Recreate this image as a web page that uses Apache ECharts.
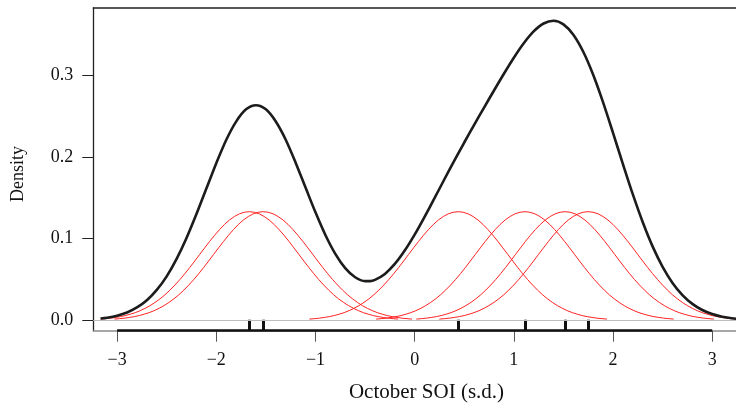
<!DOCTYPE html>
<html>
<head>
<meta charset="utf-8">
<script src="https://cdn.jsdelivr.net/npm/echarts@6/dist/echarts.min.js"></script>
<style>
html,body{margin:0;padding:0;background:#fff;}
#chart{width:736px;height:404px;}
</style>
</head>
<body>
<div id="chart"></div>
<script>
// ---- data ----
const observations = [-1.667, -1.527, 0.439, 1.112, 1.517, 1.749];
const kernelOffset = [-1.5,-1.45,-1.4,-1.35,-1.3,-1.25,-1.2,-1.15,-1.1,-1.05,-1.0,-0.95,-0.9,-0.85,-0.8,-0.75,-0.7,-0.65,-0.6,-0.55,-0.5,-0.45,-0.4,-0.35,-0.3,-0.25,-0.2,-0.15,-0.1,-0.05,0,
  0.05,0.1,0.15,0.2,0.25,0.3,0.35,0.4,0.45,0.5,0.55,0.6,0.65,0.7,0.75,0.8,0.85,0.9,0.95,1.0,1.05,1.1,1.15,1.2,1.25,1.3,1.35,1.4,1.45,1.5];
const kernelHeight = [0.0015,0.0020,0.0026,0.0035,0.0045,0.0058,0.0075,0.0094,0.0118,0.0147,0.0180,0.0219,0.0263,0.0313,0.0370,0.0432,0.0499,0.0571,0.0647,0.0726,0.0807,0.0887,0.0966,0.1041,0.1111,0.1174,0.1228,0.1271,0.1304,0.1323,0.1330,
  0.1323,0.1304,0.1271,0.1228,0.1174,0.1111,0.1041,0.0966,0.0887,0.0807,0.0726,0.0647,0.0571,0.0499,0.0432,0.0370,0.0313,0.0263,0.0219,0.0180,0.0147,0.0118,0.0094,0.0075,0.0058,0.0045,0.0035,0.0026,0.0020,0.0015];
const densityX = [-3.167,-3.1,-3.0,-2.9,-2.8,-2.7,-2.6,-2.5,-2.4,-2.3,-2.2,-2.1,-2.0,-1.9,-1.8,-1.7,-1.6,-1.5,-1.4,-1.3,-1.2,-1.1,-1.0,-0.9,-0.8,-0.7,-0.6,-0.5,-0.45,-0.4,-0.3,-0.2,-0.1,0.0,
  0.1,0.2,0.3,0.4,0.5,0.6,0.7,0.8,0.9,1.0,1.1,1.2,1.3,1.4,1.5,1.6,1.7,1.8,1.9,2.0,2.1,2.2,2.3,2.4,2.5,2.6,2.7,2.8,2.9,3.0,3.1,3.2,3.249];
const densityY = [0.0022,0.0032,0.0057,0.0096,0.0157,0.0245,0.0372,0.0538,0.0752,0.1008,0.1301,0.1613,0.1924,0.2208,0.2433,0.2583,0.2634,0.2583,0.2434,0.2211,0.1930,0.1625,0.1322,0.1045,0.0814,0.0639,0.0527,0.0480,0.0480,0.0495,0.0568,0.0690,0.0854,0.1049,
  0.1267,0.1495,0.1727,0.1955,0.2177,0.2393,0.2605,0.2814,0.3019,0.3215,0.3392,0.3537,0.3634,0.3668,0.3624,0.3497,0.3288,0.3006,0.2668,0.2295,0.1912,0.1541,0.1200,0.0902,0.0655,0.0458,0.0309,0.0201,0.0126,0.0076,0.0044,0.0025,0.0018];
const xTicks = [-3,-2,-1,0,1,2,3];
const yTicks = [0,0.1,0.2,0.3];
const xTitle = 'October SOI (s.d.)';
const yTitle = 'Density';

// ---- layout ----
const XMIN = -3.24, XMAX = 3.24, YMIN = -0.01273, YMAX = 0.3824;
const FONT = 'Liberation Serif';

const chart = echarts.init(document.getElementById('chart'), null, {renderer:'canvas'});

const redSeries = observations.map(p => ({
  type:'line', xAxisIndex:0, yAxisIndex:0,
  data: kernelOffset.map((o,i)=>[p+o, kernelHeight[i]]),
  showSymbol:false, smooth:false, z:3,
  lineStyle:{color:'#f22', width:1},
  silent:true, animation:false
}));

const option = {
  animation:false,
  grid:{left:93.3, top:8, width:651.2, height:322.7, show:false},
  xAxis:[
    {type:'value', min:XMIN, max:XMAX, position:'bottom',
     axisLine:{show:true, onZero:false, lineStyle:{color:'#8a8a8a', width:1.5}},
     axisTick:{show:true, inside:false, length:11, customValues:xTicks, lineStyle:{color:'#555', width:1}},
     axisLabel:{show:true, customValues:xTicks, margin:21, fontFamily:FONT, fontSize:18, color:'#111',
       formatter:v=> (v<0? '\u2212'+Math.abs(v) : String(v))},
     splitLine:{show:false}},
    {type:'value', min:XMIN, max:XMAX, position:'bottom',
     axisLine:{show:false, onZero:false},
     axisTick:{show:true, inside:true, length:11, customValues:observations, lineStyle:{color:'#111', width:3}},
     axisLabel:{show:false}, splitLine:{show:false}},
    {type:'value', min:XMIN, max:XMAX, position:'top',
     axisLine:{show:true, onZero:false, lineStyle:{color:'#222', width:1.5}},
     axisTick:{show:false}, axisLabel:{show:false}, splitLine:{show:false}}
  ],
  yAxis:[
    {type:'value', min:YMIN, max:YMAX, position:'left',
     axisLine:{show:true, onZero:false, lineStyle:{color:'#222', width:1.3}},
     axisTick:{show:true, inside:false, length:11, customValues:yTicks, lineStyle:{color:'#222', width:1}},
     axisLabel:{show:true, customValues:yTicks, margin:20, fontFamily:FONT, fontSize:18, color:'#111',
       formatter:v=>v.toFixed(1)},
     splitLine:{show:false}}
  ],
  graphic:[
    {type:'text', x:426.5, y:392, style:{text:xTitle, fontFamily:FONT, fontSize:21, fill:'#111', align:'center', verticalAlign:'middle'}},
    {type:'text', x:18.5, y:174, rotation:Math.PI/2, style:{text:yTitle, fontFamily:FONT, fontSize:18, fill:'#111', align:'center', verticalAlign:'middle'}}
  ],
  series:[
    {type:'line', xAxisIndex:0, yAxisIndex:0, data:[], z:1, silent:true,
     markLine:{silent:true, symbol:'none', label:{show:false}, animation:false,
       data:[{yAxis:0, lineStyle:{color:'#bdbdbd', width:1, type:'solid'}}]}},
    ...redSeries,
    {type:'line', xAxisIndex:0, yAxisIndex:0,
     data: densityX.map((x,i)=>[x, densityY[i]]),
     showSymbol:false, smooth:0.3, z:4,
     lineStyle:{color:'#1c1c1c', width:2.6},
     silent:true,
     markLine:{silent:true, symbol:'none', label:{show:false}, animation:false,
       data:[[{coord:[xTicks[0], YMIN]}, {coord:[xTicks[xTicks.length-1], YMIN]}]],
       lineStyle:{color:'#111', width:2.7, type:'solid'}}}
  ]
};
chart.setOption(option);
</script>
</body>
</html>
